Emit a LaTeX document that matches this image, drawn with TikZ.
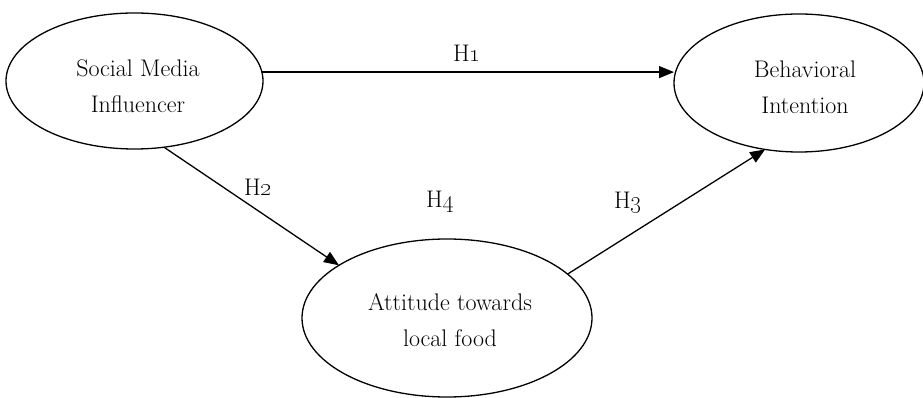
\documentclass[tikz,border=0pt]{standalone}
\usetikzlibrary{shapes.geometric,arrows.meta}
\begin{document}
\begin{tikzpicture}[x=1pt,y=-1pt]
\tikzset{
 ell/.style={draw, ellipse, line width=1.3pt, inner sep=0pt, outer sep=0pt},
 txt/.style={font=\fontsize{24}{36}\selectfont, align=center, inner sep=0pt},
 hyp/.style={font=\fontsize{24}{36}\selectfont, inner sep=0pt},
 conn/.style={line width=1.3pt, -{Triangle[length=15pt,width=12pt]}}
}
\useasboundingbox (0,0) rectangle (923,398);
\node[ell, minimum width=257pt, minimum height=136pt] (e1) at (134.5,81) {};
\node[ell, minimum width=250pt, minimum height=138pt] (e2) at (799,83) {};
\node[ell, minimum width=290pt, minimum height=158pt] (e3) at (447,318) {};
\node[txt] (t1) at (138,86.5) {Social Media\\Influencer};
\node[txt] (t2) at (805,87.5) {Behavioral\\Intention};
\node[txt] (t3) at (450,320) {Attitude towards\\local food};
\draw[conn] (e1.4) -- (e1.4 -| e2.west);
\draw[conn] (e1.-66.6) -- (e3.154.1);
\draw[conn] (e3.20.2) -- (e2.-117.1);
\node[hyp] (h1) at (467,53) {H\oldstylenums{1}};
\node[hyp] (h2) at (258,187) {H\oldstylenums{2}};
\node[hyp] (h3) at (628,203) {H\oldstylenums{3}};
\node[hyp] (h4) at (440,202) {H\oldstylenums{4}};
\end{tikzpicture}
\end{document}
